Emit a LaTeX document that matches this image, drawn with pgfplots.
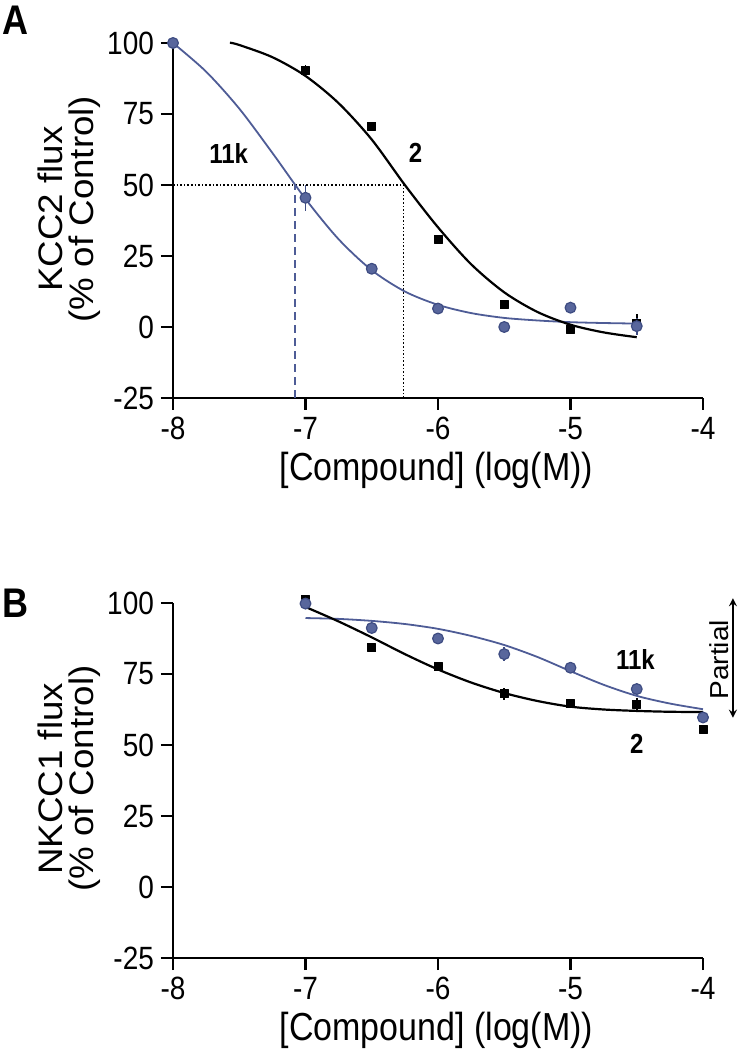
\documentclass[border=0pt]{standalone}
\usepackage{pgfplots}
\pgfplotsset{compat=1.18}
\usepackage{fontspec}
\setmainfont{Liberation Sans}
\definecolor{bline}{RGB}{78,92,150}
\definecolor{bfill}{RGB}{88,102,156}
\definecolor{bdraw}{RGB}{62,76,130}
\newcommand{\tall}[1]{\scalebox{1}[1.15]{#1}}
\newcommand{\lng}[1]{\scalebox{1.08}[1]{#1}}
\pgfplotsset{
  myax/.style={
    scale only axis, width=265pt, height=177.5pt,
    xmin=-8, xmax=-4, ymin=-25, ymax=100,
    axis lines=left, axis line style={-, line width=1.4pt},
    xtick={-8,-7,-6,-5,-4}, ytick={-25,0,25,50,75,100},
    tick align=outside, major tick length=6pt,
    tick style={line width=1.2pt, black},
    ticklabel style={font=\fontsize{14}{14}\selectfont},
    xticklabel={\tall{\pgfmathprintnumber{\tick}}},
    yticklabel={\tall{\pgfmathprintnumber{\tick}}},
    /pgf/number format/assume math mode=true,
    clip=false,
    label style={font=\fontsize{17}{15.5}\selectfont, align=center},
    xlabel style={at={(axis description cs:0.497,-0.205)}, anchor=center},
    every axis plot/.append style={line join=round},
    error bars/error mark=none,
    error bars/error bar style={line width=0.9pt},
  },
  bcirc/.style={only marks, mark=*, mark size=2.7pt, mark options={fill=bfill, draw=bdraw, line width=0.6pt}, error bars/error bar style={bdraw, line width=0.9pt}},
  ksq/.style={only marks, mark=square*, mark size=2pt, mark options={fill=black, draw=black}, error bars/error bar style={black, line width=0.9pt}},
}
\begin{document}
\begin{tikzpicture}
\path[use as bounding box] (0,0) rectangle (369pt,525pt);
\node[font=\fontsize{18}{18}\bfseries\selectfont] at (7.5pt,515pt) {\tall{A}};
\node[font=\fontsize{18}{18}\bfseries\selectfont] at (7.5pt,223.5pt) {\tall{B}};
% ---------------- Panel A ----------------
\begin{axis}[myax, at={(86.5pt,326pt)}, anchor=south west,
  xlabel={\tall{[Compound] (log(M))}},
  ylabel={\lng{KCC2 flux}\\\lng{(\% of Control)}},
  ylabel style={at={(axis description cs:-0.196,0.532)}, anchor=center}]
% reference lines
\addplot[black, densely dotted, line width=0.8pt] coordinates {(-8,50) (-6.26,50)};
\addplot[black, densely dotted, line width=0.8pt] coordinates {(-6.26,-25) (-6.26,50)};
\addplot[bline, dash pattern=on 4pt off 2.5pt, line width=0.9pt] coordinates {(-7.08,-25) (-7.08,50)};
% fitted curves
\addplot[bline, line width=0.9pt, smooth] coordinates {
(-8,100) (-7.75,89.9) (-7.5,76.9) (-7.25,61.3) (-7,45.1) (-6.75,30.9) (-6.5,20.0)
(-6.25,12.5) (-6,7.8) (-5.75,4.9) (-5.5,3.2) (-5.25,2.3) (-5,1.7) (-4.75,1.4) (-4.5,1.2)};
\addplot[black, line width=1.1pt, smooth] coordinates {
(-7.57,100.1) (-7.5,99.3) (-7.25,95) (-7,88.4) (-6.75,78.8) (-6.5,66) (-6.25,50)
(-6,35.1) (-5.75,22.1) (-5.5,12.2) (-5.25,5.3) (-5,0.8) (-4.75,-1.9) (-4.5,-3.6)};
% data
\addplot[ksq, error bars/.cd, y dir=both, y explicit] coordinates {
(-7,90.4) +- (0,2) (-6.5,70.8) +- (0,0) (-6,30.9) +- (0,0) (-5.5,7.9) +- (0,0)
(-5,-0.8) +- (0,0) (-4.5,1.4) +- (0,3)};
\addplot[bcirc, error bars/.cd, y dir=both, y explicit] coordinates {
(-8,100) +- (0,0) (-7,45.5) +- (0,4.5) (-6.5,20.5) +- (0,0) (-6,6.5) +- (0,1)
(-5.5,0) +- (0,0) (-5,6.8) +- (0,2) (-4.5,0.3) +- (0,3)};
\node[font=\fontsize{12}{12}\bfseries\selectfont] at (axis cs:-7.58,61.2) {\tall{11k}};
\node[font=\fontsize{12}{12}\bfseries\selectfont] at (axis cs:-6.17,61.2) {\tall{2}};
\end{axis}
% ---------------- Panel B ----------------
\begin{axis}[myax, at={(86.5pt,46pt)}, anchor=south west,
  xlabel={\tall{[Compound] (log(M))}},
  ylabel={\lng{NKCC1 flux}\\\lng{(\% of Control)}},
  ylabel style={at={(axis description cs:-0.196,0.505)}, anchor=center}]
\addplot[bline, line width=0.9pt, smooth] coordinates {
(-7,94.7) (-6.75,94.4) (-6.5,93.7) (-6.25,92.6) (-6,90.9) (-5.75,88.4) (-5.5,85.2)
(-5.25,81) (-5,76) (-4.75,71.2) (-4.5,67.3) (-4.25,64.6) (-4,62.6)};
\addplot[black, line width=1.1pt, smooth] coordinates {
(-7,98.6) (-6.75,93.5) (-6.5,87.9) (-6.25,82) (-6,76.6) (-5.75,72) (-5.5,68.3)
(-5.25,65.5) (-5,63.5) (-4.75,62.5) (-4.5,62) (-4.25,61.7) (-4,61.6)};
\addplot[ksq, error bars/.cd, y dir=both, y explicit] coordinates {
(-7,101.3) +- (0,1) (-6.5,84.3) +- (0,0) (-6,77.6) +- (0,1) (-5.5,68) +- (0,2)
(-5,64.5) +- (0,0) (-4.5,64.4) +- (0,2) (-4,55.5) +- (0,0)};
\addplot[bcirc, error bars/.cd, y dir=both, y explicit] coordinates {
(-7,99.8) +- (0,0) (-6.5,91.2) +- (0,0) (-6,87.5) +- (0,0) (-5.5,82) +- (0,2.5)
(-5,77.2) +- (0,0) (-4.5,69.7) +- (0,0) (-4,59.7) +- (0,1.5)};
\node[font=\fontsize{12}{12}\bfseries\selectfont] at (axis cs:-4.51,80.2) {\tall{11k}};
\node[font=\fontsize{12}{12}\bfseries\selectfont] at (axis cs:-4.50,50.4) {\tall{2}};
\draw[<->, >=stealth, line width=0.8pt] (axis cs:-3.774,101.7) -- (axis cs:-3.774,59.6);
\node[rotate=90, font=\fontsize{13}{13}\selectfont] at (axis cs:-3.875,80) {\lng{Partial}};
\end{axis}
\end{tikzpicture}
\end{document}
